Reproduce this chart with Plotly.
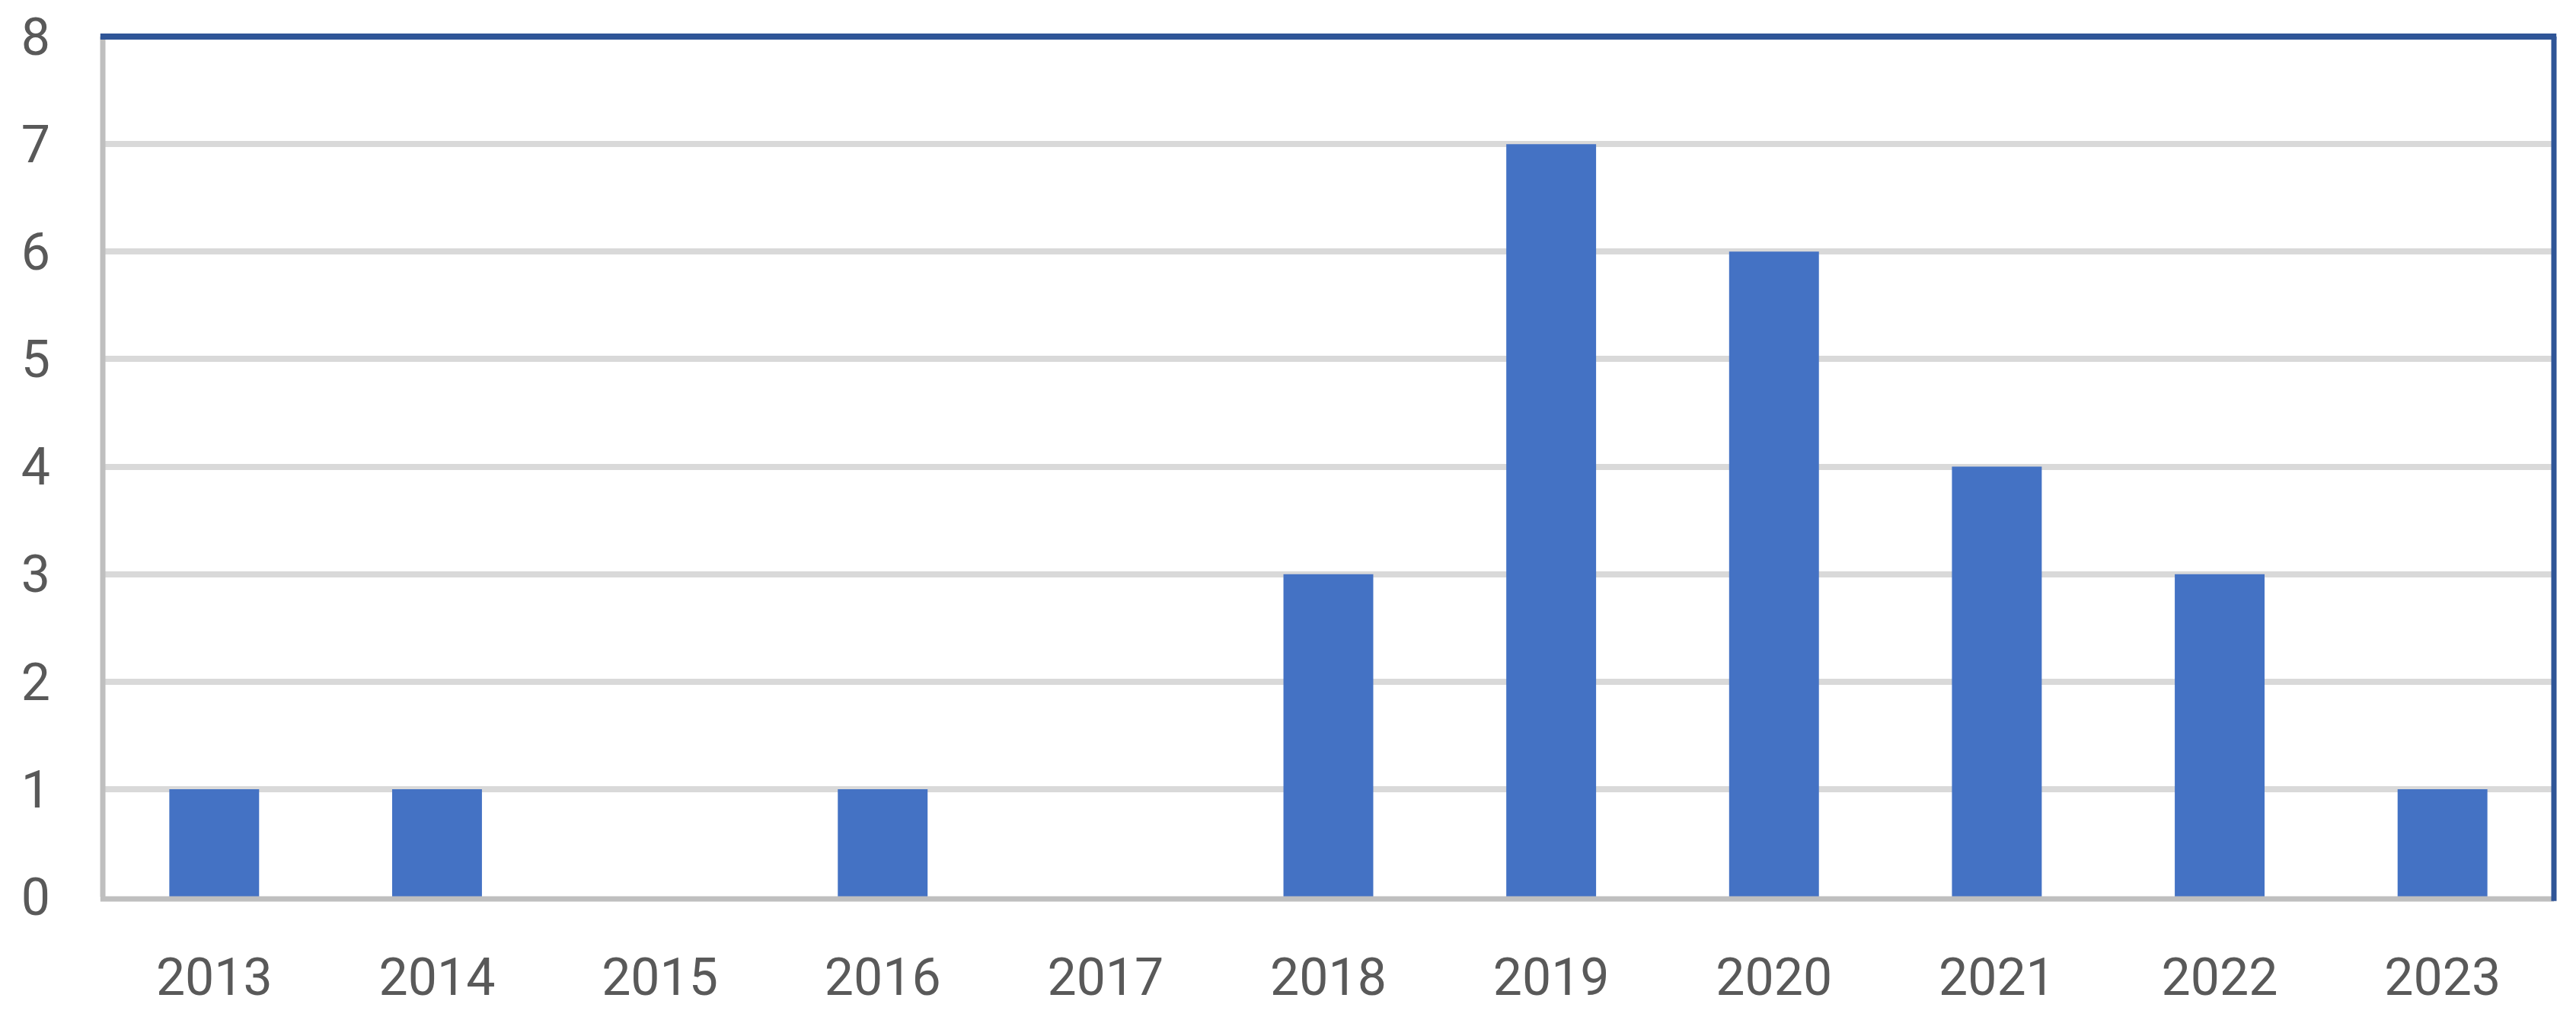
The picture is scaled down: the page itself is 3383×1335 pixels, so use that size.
import plotly.graph_objects as go

years = ["2013", "2014", "2015", "2016", "2017", "2018", "2019", "2020", "2021", "2022", "2023"]
counts = [1, 1, 0, 1, 0, 3, 7, 6, 4, 3, 1]
y_ticks = [0, 1, 2, 3, 4, 5, 6, 7, 8]

# page body has an 8px default margin; size the figure to fit inside it
W, H = 3367, 1319
L, R, T, B = 127, 21, 40, 150

fig = go.Figure(go.Bar(x=years, y=counts, marker=dict(color="#4472C4", line=dict(width=0))))

font = dict(family="Roboto", size=68, color="#595959")
fig.update_layout(
    width=W, height=H,
    margin=dict(l=L, r=R, t=T, b=B, pad=0, autoexpand=False),
    paper_bgcolor="white", plot_bgcolor="white",
    bargap=0.597,
    showlegend=False,
    font=font,
)
fig.update_xaxes(type="category", showgrid=False, showline=False, zeroline=False,
                 ticks="", tickfont=font, ticklabelstandoff=60, automargin=False,
                 ticklabeloverflow="allow")
fig.update_yaxes(range=[0, 8.0001], tickvals=y_ticks, showgrid=True, gridcolor="#D9D9D9",
                 gridwidth=8, zeroline=False, showline=False, ticks="",
                 tickfont=font, ticklabelstandoff=68, automargin=False,
                 ticklabeloverflow="allow")

# chart borders
fig.add_shape(type="line", xref="paper", yref="paper", x0=0, x1=0, y0=0, y1=1,
              line=dict(color="#BFBFBF", width=7), layer="above")
fig.add_shape(type="line", xref="paper", yref="paper", x0=-0.001, x1=1, y0=-0.0027, y1=-0.0027,
              line=dict(color="#BFBFBF", width=7), layer="above")
fig.add_shape(type="line", xref="paper", yref="paper", x0=-0.001, x1=1.001, y0=1, y1=1,
              line=dict(color="#2F5597", width=8), layer="above")
fig.add_shape(type="line", xref="paper", yref="paper", x0=1, x1=1, y0=-0.005, y1=1,
              line=dict(color="#2F5597", width=7), layer="above")

fig.write_html("out.html")
